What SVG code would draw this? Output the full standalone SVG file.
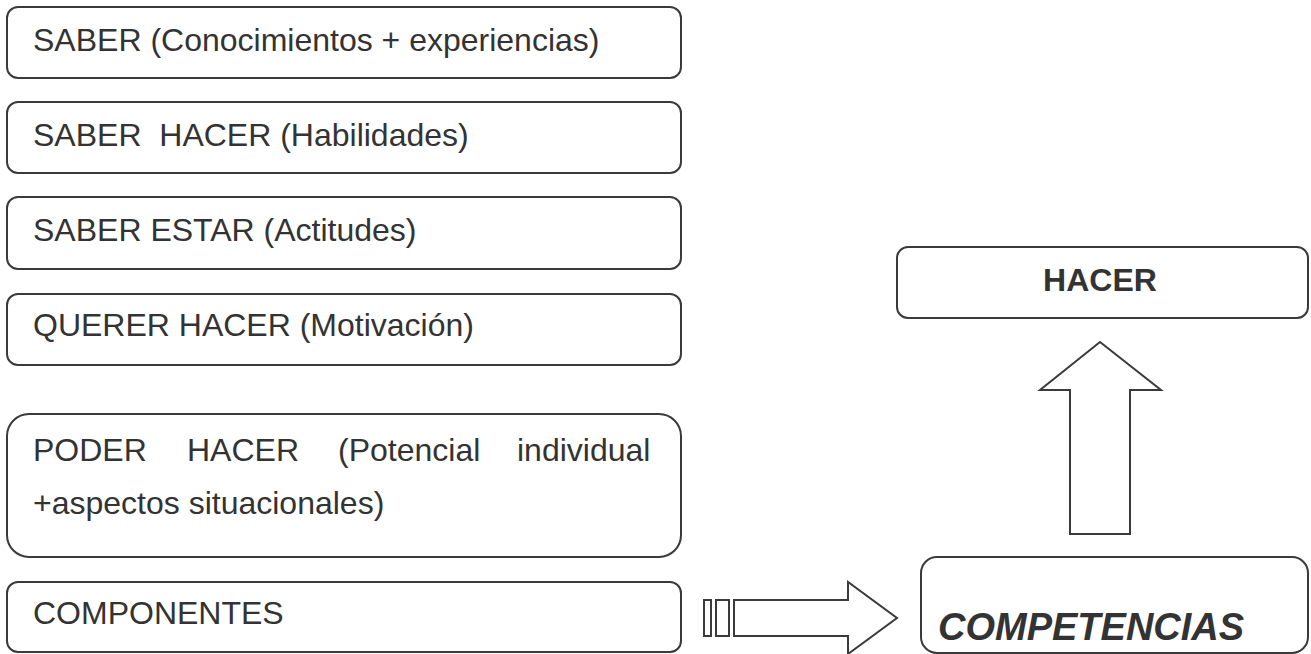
<svg xmlns="http://www.w3.org/2000/svg" width="1311" height="654" viewBox="0 0 1311 654">
<style>
.box{fill:#fff;stroke:#3a3a3a;stroke-width:2}
.t{font-family:"Liberation Sans",Arial,sans-serif;font-size:32px;fill:#333}
.b{font-weight:bold}
.bi{font-weight:bold;font-style:italic;font-size:38px}
.arr{fill:#fff;stroke:#3a3a3a;stroke-width:2;stroke-linejoin:miter}
</style>
<rect width="1311" height="654" fill="#fff"/>
<g id="saber">
<rect class="box" x="7" y="7" width="674" height="71" rx="11"/>
<text class="t" x="33" y="51">SABER (Conocimientos + experiencias)</text>
</g>
<g id="saber-hacer">
<rect class="box" x="7" y="102" width="674" height="71" rx="11"/>
<text class="t" x="33" y="146" xml:space="preserve">SABER  HACER (Habilidades)</text>
</g>
<g id="saber-estar">
<rect class="box" x="7" y="197" width="674" height="72" rx="11"/>
<text class="t" x="33" y="241">SABER ESTAR (Actitudes)</text>
</g>
<g id="querer-hacer">
<rect class="box" x="7" y="294" width="674" height="71" rx="11"/>
<text class="t" x="33" y="336">QUERER HACER (Motivación)</text>
</g>
<g id="poder-hacer">
<rect class="box" x="7" y="414" width="674" height="143" rx="22"/>
<text class="t" y="461"><tspan x="33">PODER</tspan><tspan x="187">HACER</tspan><tspan x="338">(Potencial</tspan><tspan x="517">individual</tspan></text>
<text class="t" x="33" y="514">+aspectos situacionales)</text>
</g>
<g id="componentes">
<rect class="box" x="7" y="582" width="674" height="70" rx="11"/>
<text class="t" x="33" y="624">COMPONENTES</text>
</g>
<g id="hacer">
<rect class="box" x="897" y="247" width="411" height="71" rx="11"/>
<text class="t b" x="1100" y="291" text-anchor="middle">HACER</text>
</g>
<g id="competencias">
<rect class="box" x="921" y="557" width="387" height="96" rx="16"/>
<text class="t bi" x="938" y="640">COMPETENCIAS</text>
</g>
<g id="connectors">
<path class="arr" d="M1100 342 L1161 390 L1130 390 L1130 534 L1070 534 L1070 390 L1040 390 Z"/>
<rect class="arr" x="704" y="600" width="7" height="36"/>
<rect class="arr" x="716" y="600" width="13" height="36"/>
<path class="arr" d="M734 600 L848 600 L848 582 L897 618 L848 654 L848 636 L734 636 Z"/>
</g>
</svg>
